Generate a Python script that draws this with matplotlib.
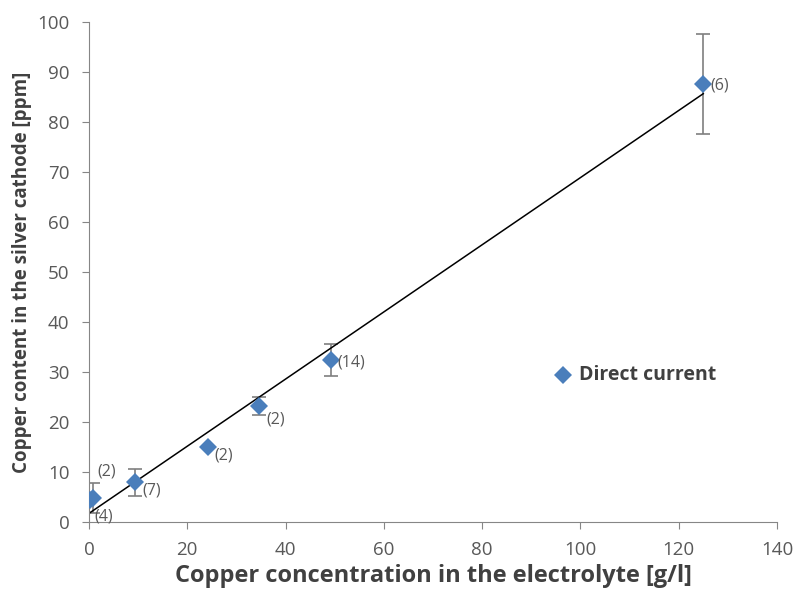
import matplotlib
matplotlib.use("Agg")
from matplotlib import pyplot as plt
import numpy as np

plt.rcParams['font.family'] = ['Open Sans', 'DejaVu Sans']

# data
conc = [0.3, 0.8, 9.4, 24.2, 34.6, 49.2, 125.0]
cu_ppm = [4.5, 4.8, 8.0, 15.0, 23.2, 32.5, 87.6]
err = [0.0, 3.0, 2.7, 0.0, 1.8, 3.2, 10.0]
counts = ["(4)", "(2)", "(7)", "(2)", "(2)", "(14)", "(6)"]
label_offsets = [(3, -12), (3, 19), (5, -6), (5, -6), (5, -10), (5, -2), (5, -1)]

fig = plt.figure(figsize=(7.93, 6.01), dpi=100)
ax = fig.add_axes([89/793, 1-522/601, 688/793, 500/601])

ax.errorbar(conc, cu_ppm, yerr=err, fmt='none', ecolor='#7f7f7f', elinewidth=1.2,
            capsize=5, capthick=1.2, zorder=2)
ax.plot(conc, cu_ppm, 'D', color='#4a7ebb', markersize=9, markeredgewidth=0,
        label='Direct current', zorder=3)

k, b = np.polyfit(conc, cu_ppm, 1)
xl = np.array([0.0, max(conc)])
ax.plot(xl, k*xl + b, color='black', lw=1.1, zorder=2.5)

for x, y, t, off in zip(conc, cu_ppm, counts, label_offsets):
    ax.annotate(t, (x, y), xytext=off, textcoords='offset points',
                fontsize=11.5, color='#595959', va='center')

ax.set_xlim(0, 140)
ax.set_ylim(0, 100)
ax.set_xticks(np.arange(0, 141, 20))
ax.set_yticks(np.arange(0, 101, 10))
for s in ['top', 'right']:
    ax.spines[s].set_visible(False)
for s in ['left', 'bottom']:
    ax.spines[s].set_color('#868686')
ax.tick_params(colors='#868686', labelcolor='#595959', labelsize=13.5, length=5)
ax.tick_params(axis='x', pad=9)
ax.tick_params(axis='y', pad=9)

ax.set_xlabel("Copper concentration in the electrolyte [g/l]", fontsize=17,
              fontweight='bold', color='#404040', labelpad=3)
ax.set_ylabel("Copper content in the silver cathode [ppm]", fontsize=13.5,
              fontweight='bold', color='#404040', labelpad=4)

leg = ax.legend(loc='center left', bbox_to_anchor=(0.66, 0.294), frameon=False,
                handletextpad=0.7, handlelength=1.0)
for t in leg.get_texts():
    t.set_fontweight('bold')
    t.set_fontsize(14)
    t.set_color('#404040')

fig.savefig("out.png", dpi=100)
